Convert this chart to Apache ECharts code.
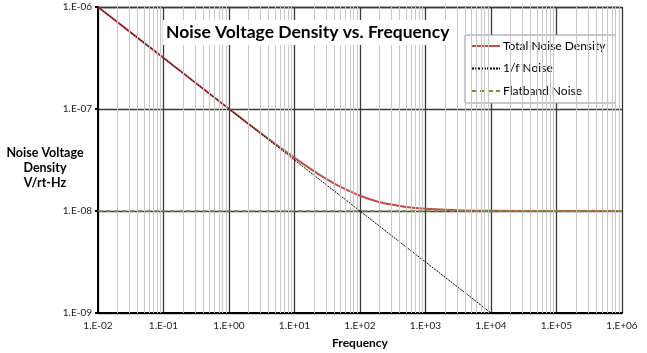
<!DOCTYPE html>
<html>
<head>
<meta charset="utf-8">
<title>Noise Voltage Density vs. Frequency</title>
<script src="https://cdn.jsdelivr.net/npm/echarts@6/dist/echarts.min.js"></script>
<style>
  html, body { margin: 0; padding: 0; background: #fff; }
  #main { width: 647px; height: 353px; }
</style>
</head>
<body>
<div id="main"></div>
<script>
// values (frequency in Hz, density in V/rt-Hz)
var freqTotal = [0.01, 0.03, 0.1, 0.3, 1, 2, 3, 5, 10, 20, 30, 50, 100, 200, 300, 500, 1000, 3000, 10000, 100000, 1000000];
var totalNoise = [1.0e-6, 5.77e-7, 3.17e-7, 1.83e-7, 1.005e-7, 7.14e-8, 5.86e-8, 4.58e-8, 3.32e-8, 2.45e-8, 2.08e-8, 1.73e-8, 1.41e-8, 1.22e-8, 1.16e-8, 1.095e-8, 1.05e-8, 1.016e-8, 1.005e-8, 1.0005e-8, 1.0e-8];
var freqOneOverF = [0.01, 10000];
var oneOverFNoise = [1.0e-6, 1.0e-9];
var freqFlat = [0.01, 1000000];
var flatNoise = [1.0e-8, 1.0e-8];

function pairs(xs, ys) {
  var out = [];
  for (var i = 0; i < xs.length; i++) out.push([xs[i], ys[i]]);
  return out;
}

function expLabel(v) {
  var e = Math.round(Math.log10(v));
  var a = Math.abs(e);
  return '1.E' + (e < 0 ? '-' : '+') + (a < 10 ? '0' : '') + a;
}

// minor grid lines at 2..9 of each decade
var minorX = [], minorY = [];
for (var d = -2; d < 6; d++) for (var k = 2; k < 10; k++) minorX.push({ xAxis: k * Math.pow(10, d) });
for (var d2 = -9; d2 < -6; d2++) for (var k2 = 2; k2 < 10; k2++) minorY.push({ yAxis: k2 * Math.pow(10, d2) });

var myChart = echarts.init(document.getElementById('main'));

var option = {
  animation: false,
  textStyle: { fontFamily: 'Lato, sans-serif' },
  title: {
    text: 'Noise Voltage Density vs. Frequency',
    left: 163, top: 20,
    backgroundColor: '#fff',
    padding: [3, 4, 4, 3],
    textStyle: { fontSize: 17.5, fontWeight: 'bold', color: '#000' }
  },
  legend: {
    orient: 'vertical',
    left: 465, top: 35,
    width: 150,
    backgroundColor: '#fff',
    borderColor: '#8a96aa',
    borderWidth: 1,
    padding: [5, 10, 6, 6],
    itemWidth: 28, itemHeight: 11,
    itemGap: 10.5,
    itemStyle: { opacity: 0 },
    textStyle: { fontSize: 12, color: '#000', padding: [0, 0, 0, -2] },
    data: ['Total Noise Density', '1/f Noise', 'Flatband Noise']
  },
  graphic: [{
    type: 'text', x: 45, y: 145, z: 10,
    style: {
      text: 'Noise Voltage\nDensity\nV/rt-Hz',
      align: 'center', verticalAlign: 'top',
      font: 'bold 12.5px Lato, sans-serif', lineHeight: 15, fill: '#000'
    }
  }],
  grid: { left: 98, right: 25, top: 7, bottom: 40, outerBoundsMode: 'none', containLabel: false },
  xAxis: {
    type: 'log', logBase: 10,
    min: 0.01, max: 1000000,
    splitNumber: 8,
    name: 'Frequency',
    nameLocation: 'middle', nameGap: 24,
    nameTextStyle: { fontSize: 12, fontWeight: 'bold', color: '#000' },
    axisLine: { lineStyle: { color: '#000', width: 2 } },
    axisTick: { show: false },
    axisLabel: { fontSize: 10, color: '#222', margin: 8, formatter: expLabel },
    splitLine: { show: true, lineStyle: { color: '#3a3a3a', width: 1.3 } }
  },
  yAxis: {
    type: 'log', logBase: 10,
    min: 1e-9, max: 1e-6,
    splitNumber: 3,
    axisLine: { show: true, lineStyle: { color: '#000', width: 2 } },
    axisTick: { show: true, length: 3, lineStyle: { color: '#000', width: 2 } },
    axisLabel: { fontSize: 10, color: '#222', margin: 6, formatter: expLabel },
    splitLine: { show: true, lineStyle: { color: '#3a3a3a', width: 1.3 } }
  },
  series: [
    {
      name: 'grid-minor', type: 'line', data: [], silent: true, z: 1,
      markLine: {
        silent: true, symbol: 'none', animation: false,
        label: { show: false },
        lineStyle: { color: '#c8c8c8', width: 1, type: 'solid' },
        data: minorX.concat(minorY)
      }
    },
    {
      name: 'Total Noise Density', type: 'line', smooth: 0.3,
      showSymbol: false, symbol: 'none', z: 3,
      data: pairs(freqTotal, totalNoise),
      lineStyle: { color: '#c0504d', width: 2 },
      itemStyle: { color: '#c0504d' }
    },
    {
      name: '1/f Noise', type: 'line', showSymbol: false, symbol: 'none', z: 4,
      data: pairs(freqOneOverF, oneOverFNoise),
      lineStyle: { color: '#000', width: 1, type: [2, 1] },
      itemStyle: { color: '#000' }
    },
    {
      name: 'Flatband Noise', type: 'line', showSymbol: false, symbol: 'none', z: 5,
      data: pairs(freqFlat, flatNoise),
      lineStyle: { color: '#77933c', width: 1.5, type: [5, 3] },
      itemStyle: { color: '#77933c' }
    }
  ]
};

myChart.setOption(option);
</script>
</body>
</html>
